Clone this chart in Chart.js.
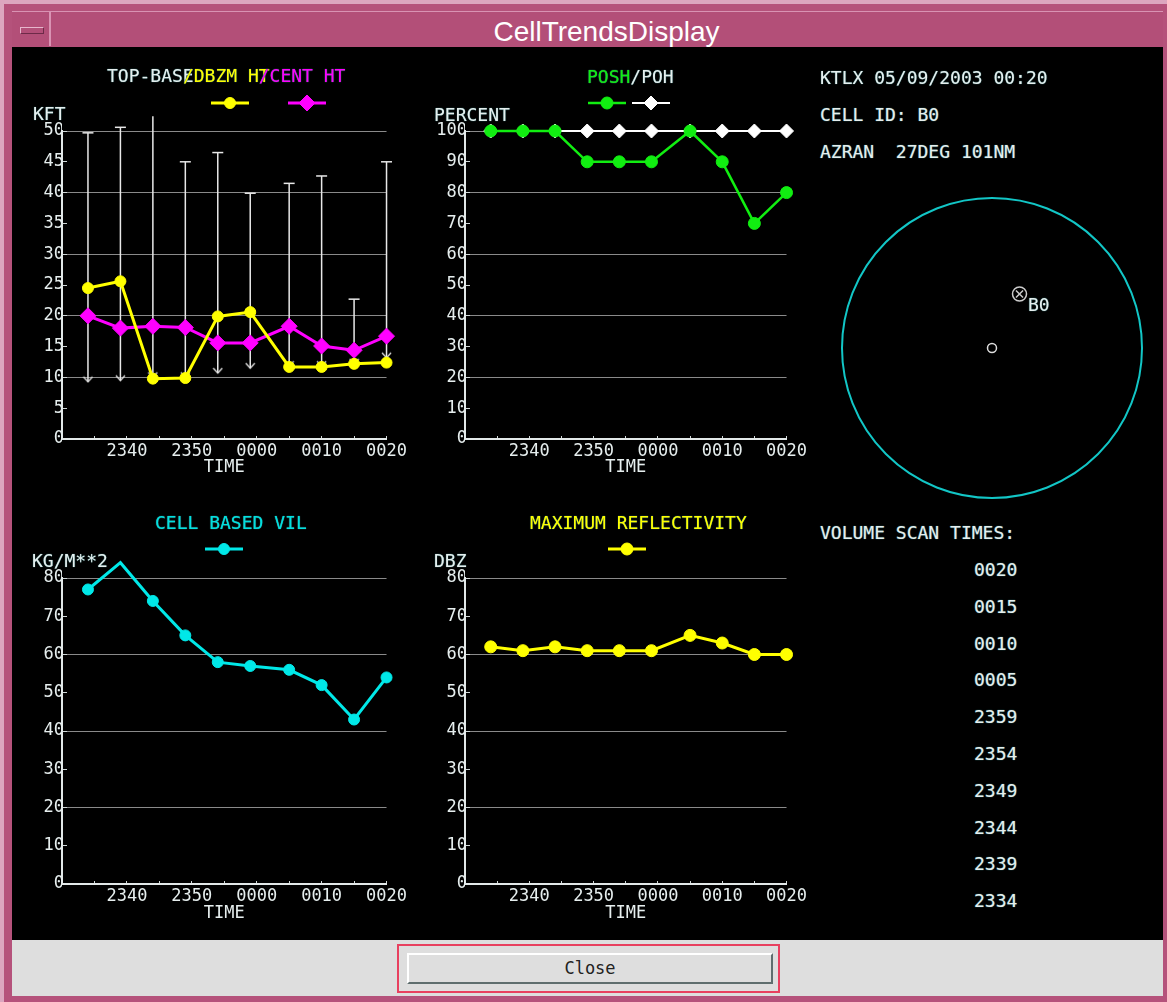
<!DOCTYPE html>
<html>
<head>
<meta charset="utf-8">
<title>CellTrendsDisplay</title>
<script src="https://cdn.jsdelivr.net/npm/chart.js@4.4.1/dist/chart.umd.min.js"></script>
<style>
  body { margin:0; width:1167px; height:1002px; background:#b5527b; position:relative; overflow:hidden;
         font-family:'DejaVu Sans Mono', monospace; }
  .abs { position:absolute; }
  #hiTop { left:0; top:0; width:1167px; height:4px; background:#dca6bf; }
  #hiLeft { left:0; top:0; width:4px; height:1002px; background:#dca6bf; }
  #titlebar { left:12px; top:11px; width:1151px; height:35px; background:#b34f78;
              border-top:1px solid #d993b3; border-bottom:1px solid #6d2a48; }
  #minbox { left:12px; top:11px; width:37px; height:35px; border-right:2px solid #d993b3; }
  #minbtn { left:20px; top:27px; width:22px; height:5px; border:1px solid #e7b6cc; border-right-color:#6d2a48; border-bottom-color:#6d2a48; }
  #title { left:50px; top:14px; width:1113px; height:35px; line-height:35px; text-align:center; color:#fff;
           font-family:'Liberation Sans', Arial, sans-serif; font-size:28px; }
  #screen { left:12px; top:47px; width:1151px; height:893px; background:#000; }
  #bottom { left:12px; top:940px; width:1151px; height:56px; background:#dedede; }
  #closeRing { left:397px; top:944px; width:383px; height:49px; border:2px solid #e8405f; box-sizing:border-box; }
  #closeBtn { left:407px; top:953px; width:366px; height:31px; background:#dedede; box-sizing:border-box;
              border-top:2px solid #fff; border-left:2px solid #fff; border-right:2px solid #5f6e6e; border-bottom:2px solid #5f6e6e;
              text-align:center; font-size:17px; line-height:26px; color:#222; }
  .txt { position:absolute; font-size:18px; line-height:18px; white-space:pre; color:#e6eeee;
         text-shadow:0 0 1px #2f6a6a, 0 0 1px #2f6a6a; }
  canvas { position:absolute; }
</style>
</head>
<body>
<div class="abs" id="hiTop"></div>
<div class="abs" id="hiLeft"></div>
<div class="abs" id="titlebar"></div>
<div class="abs" id="minbox"></div>
<div class="abs" id="minbtn"></div>
<div class="abs" id="title">CellTrendsDisplay</div>
<div class="abs" id="screen"></div>

<canvas id="c1" width="400" height="440" style="left:12px;top:47px"></canvas>
<canvas id="c2" width="400" height="440" style="left:412px;top:47px"></canvas>
<canvas id="c3" width="400" height="446" style="left:12px;top:487px"></canvas>
<canvas id="c4" width="400" height="446" style="left:412px;top:487px"></canvas>
<canvas id="c5" width="320" height="320" style="left:832px;top:188px"></canvas>

<div class="txt" style="left:107px;top:67px"><span style="margin-right:-1ch">TOP-BASE</span><span style="color:#ffff00;margin-right:-1ch">/DBZM HT</span><span style="color:#ff00ff">/CENT HT</span></div>
<div class="txt" style="left:587px;top:68px"><span style="color:#11ee11">POSH</span>/POH</div>
<div class="txt" style="left:33px;top:105px">KFT</div>
<div class="txt" style="left:434px;top:106px">PERCENT</div>
<div class="txt" style="left:155px;top:514px;color:#00e0e0">CELL BASED VIL</div>
<div class="txt" style="left:530px;top:514px;color:#ffff00">MAXIMUM REFLECTIVITY</div>
<div class="txt" style="left:32px;top:552px">KG/M**2</div>
<div class="txt" style="left:434px;top:552px">DBZ</div>

<div class="txt" style="left:820px;top:69px">KTLX 05/09/2003 00:20</div>
<div class="txt" style="left:820px;top:106px">CELL ID: B0</div>
<div class="txt" style="left:820px;top:143px" id="azran"></div>
<div class="txt" style="left:1028px;top:296px">B0</div>
<div class="txt" style="left:820px;top:524px">VOLUME SCAN TIMES:</div>
<div id="scanList"></div>

<div class="abs" id="bottom"></div>
<div class="abs" id="closeRing"></div>
<div class="abs" id="closeBtn">Close</div>

<script>
// volume scan times (HHMM) and trend values
const times = ['2334', '2339', '2344', '2349', '2354', '2359', '0005', '0010', '0015', '0020'];
const timeTicks = ['2340', '2350', '0000', '0010', '0020'];
const topHt  = [49.7, 50.6, 52.4, 45.0, 46.5, 39.9, 41.5, 42.7, 22.7, 45.0];
const baseHt = [9.3, 9.5, 10.0, 10.0, 10.7, 11.5, 11.8, 11.8, 12.2, 13.2];
const dbzmHt = [24.5, 25.6, 9.8, 9.9, 19.9, 20.6, 11.7, 11.7, 12.2, 12.4];
const centHt = [20.0, 18.0, 18.3, 18.1, 15.6, 15.6, 18.3, 15.1, 14.4, 16.7];
const posh = [100, 100, 100, 90, 90, 90, 100, 90, 70, 80];
const poh  = [100, 100, 100, 100, 100, 100, 100, 100, 100, 100];
const vil  = [77, 84, 74, 65, 58, 57, 56, 52, 43, 54];
const maxRefl = [62, 61, 62, 61, 61, 61, 65, 63, 60, 60];
const cellAz = 27, cellRange = 101, radarRange = 250;

const TXT = '#e6eeee', AX = '#e2e8e8', GRID = '#8a8a8a';
Chart.defaults.font.family = "'DejaVu Sans Mono', monospace";
Chart.defaults.font.size = 17;
Chart.defaults.color = TXT;

// minutes relative to 0000
function toMin(s) {
  const h = +s.slice(0, 2), m = +s.slice(2);
  return (h >= 12 ? (h - 24) * 60 : h * 60) + m;
}
function fmt(v) {
  const pad = n => String(n).padStart(2, '0');
  return v < 0 ? '23' + pad(60 + v) : '00' + pad(v);
}
const xs = times.map(toMin);
const pts = arr => arr.map((v, i) => ({x: xs[i], y: v}));

// little "v" mark for the base of the top-base bars
const vMark = document.createElement('canvas');
vMark.width = 11; vMark.height = 14;
(function () {
  const g = vMark.getContext('2d');
  g.strokeStyle = '#e8e8e8'; g.lineWidth = 1.2;
  g.beginPath(); g.moveTo(1, 2); g.lineTo(5.5, 7); g.lineTo(10, 2); g.stroke();
})();

function line(data, color, style, r, w) {
  return {
    data: pts(data), showLine: true, borderColor: color, borderWidth: w,
    pointStyle: style, pointRadius: r, pointBackgroundColor: color, pointBorderColor: color,
    pointBorderWidth: 1, clip: false
  };
}

// legend samples: line with the dataset marker
const samples = {
  id: 'samples',
  afterDraw(chart, args, o) {
    const ctx = chart.ctx;
    (o.items || []).forEach(it => {
      const ds = chart.data.datasets[it.ds];
      ctx.save();
      ctx.strokeStyle = ds.borderColor;
      ctx.lineWidth = ds.borderWidth;
      ctx.beginPath(); ctx.moveTo(it.x - 19, o.y); ctx.lineTo(it.x + 19, o.y); ctx.stroke();
      ctx.fillStyle = ds.pointBackgroundColor;
      ctx.lineWidth = 1;
      Chart.helpers.drawPoint(ctx, {pointStyle: ds.pointStyle, radius: ds.pointRadius, rotation: 0, borderWidth: 1}, it.x, o.y);
      ctx.restore();
    });
  }
};

function trend(id, o) {
  return new Chart(document.getElementById(id), {
    type: 'scatter',
    data: {datasets: o.datasets},
    options: {
      responsive: false, animation: false, events: [],
      layout: {padding: {top: o.top, right: o.right, left: 0, bottom: 0}},
      plugins: {legend: {display: false}, tooltip: {enabled: false}, samples: o.samples},
      scales: {
        x: {
          type: 'linear', min: -30, max: 20,
          afterFit: s => { s.height = o.xh; },
          ticks: {
            stepSize: 5, autoSkip: false, maxRotation: 0, padding: 5,
            callback: v => timeTicks.includes(fmt(v)) ? fmt(v) : ''
          },
          grid: {color: 'transparent', tickColor: '#d0d8d8', tickLength: -3},
          border: {color: AX, width: 2},
          title: {display: true, text: 'TIME', padding: {top: 0, bottom: 9}}
        },
        y: {
          min: 0, max: o.ymax,
          afterFit: s => { s.width = o.yw; },
          ticks: {stepSize: o.step, padding: 3, autoSkip: false},
          grid: {
            color: c => (c.tick.value > 0 && c.tick.value % o.gridEvery === 0) ? GRID : 'transparent',
            tickColor: '#d0d8d8', tickLength: -5
          },
          border: {color: AX, width: 2}
        }
      }
    },
    plugins: [samples]
  });
}

// top-base bars: vertical segments broken by null points
const barPts = [];
xs.forEach((x, i) => { barPts.push({x, y: baseHt[i]}, {x, y: topHt[i]}, {x, y: null}); });

trend('c1', {
  top: 84, right: 25, yw: 50, xh: 48, ymax: 50, step: 5, gridEvery: 10,
  samples: {y: 56, items: [{ds: 0, x: 218}, {ds: 1, x: 295}]},
  datasets: [
    line(dbzmHt, '#ffff00', 'circle', 5.5, 3),
    line(centHt, '#ff00ff', 'rectRot', 8, 3),
    {data: barPts, showLine: true, spanGaps: false, borderColor: '#e8e8e8', borderWidth: 1.5, pointRadius: 0, clip: false},
    {data: pts(topHt), pointStyle: 'line', pointRadius: 5.5, pointBorderColor: '#e8e8e8', pointBorderWidth: 1.5, clip: false},
    {data: pts(baseHt), pointStyle: vMark, clip: false}
  ]
});

trend('c2', {
  top: 84, right: 22, yw: 53, xh: 48, ymax: 100, step: 10, gridEvery: 20,
  samples: {y: 56, items: [{ds: 0, x: 195}, {ds: 1, x: 239}]},
  datasets: [
    line(posh, '#11ee11', 'circle', 6, 2.5),
    line(poh, '#ffffff', 'rectRot', 7, 2)
  ]
});

trend('c3', {
  top: 91, right: 25, yw: 50, xh: 49, ymax: 80, step: 10, gridEvery: 20,
  samples: {y: 62, items: [{ds: 0, x: 212}]},
  datasets: [line(vil, '#00e8e8', 'circle', 5.5, 3)]
});

trend('c4', {
  top: 91, right: 22, yw: 53, xh: 49, ymax: 80, step: 10, gridEvery: 20,
  samples: {y: 62, items: [{ds: 0, x: 215}]},
  datasets: [line(maxRefl, '#ffff00', 'circle', 6, 3)]
});

// cell position relative to the radar
const rad = cellAz * Math.PI / 180;
const cell = {x: cellRange * Math.sin(rad), y: cellRange * Math.cos(rad)};
const ring = {
  id: 'ring',
  beforeDatasetsDraw(chart) {
    const sx = chart.scales.x, sy = chart.scales.y, ctx = chart.ctx;
    const cx = sx.getPixelForValue(0), cy = sy.getPixelForValue(0);
    const r = sx.getPixelForValue(radarRange) - cx;
    ctx.save();
    ctx.strokeStyle = '#12c6c6'; ctx.lineWidth = 2;
    ctx.beginPath(); ctx.arc(cx, cy, r, 0, Math.PI * 2); ctx.stroke();
    ctx.restore();
  }
};
new Chart(document.getElementById('c5'), {
  type: 'scatter',
  data: {datasets: [
    {data: [{x: 0, y: 0}], pointStyle: 'circle', pointRadius: 4.5, pointBackgroundColor: 'transparent', pointBorderColor: '#dddddd', pointBorderWidth: 1.5},
    {data: [cell], pointStyle: 'circle', pointRadius: 7, pointBackgroundColor: 'transparent', pointBorderColor: '#cccccc', pointBorderWidth: 1.5},
    {data: [cell], pointStyle: 'crossRot', pointRadius: 5, pointBorderColor: '#cccccc', pointBorderWidth: 1.5}
  ]},
  options: {
    responsive: false, animation: false, events: [],
    layout: {padding: 10},
    plugins: {legend: {display: false}, tooltip: {enabled: false}},
    scales: {
      x: {type: 'linear', min: -radarRange, max: radarRange, display: false},
      y: {type: 'linear', min: -radarRange, max: radarRange, display: false}
    }
  },
  plugins: [ring]
});

document.getElementById('azran').textContent = 'AZRAN  ' + cellAz + 'DEG ' + cellRange + 'NM';
const list = document.getElementById('scanList');
times.slice().reverse().forEach((t, i) => {
  const d = document.createElement('div');
  d.className = 'txt';
  d.style.left = '974px';
  d.style.top = (561 + i * 36.8) + 'px';
  d.textContent = t;
  list.appendChild(d);
});
</script>
</body>
</html>
